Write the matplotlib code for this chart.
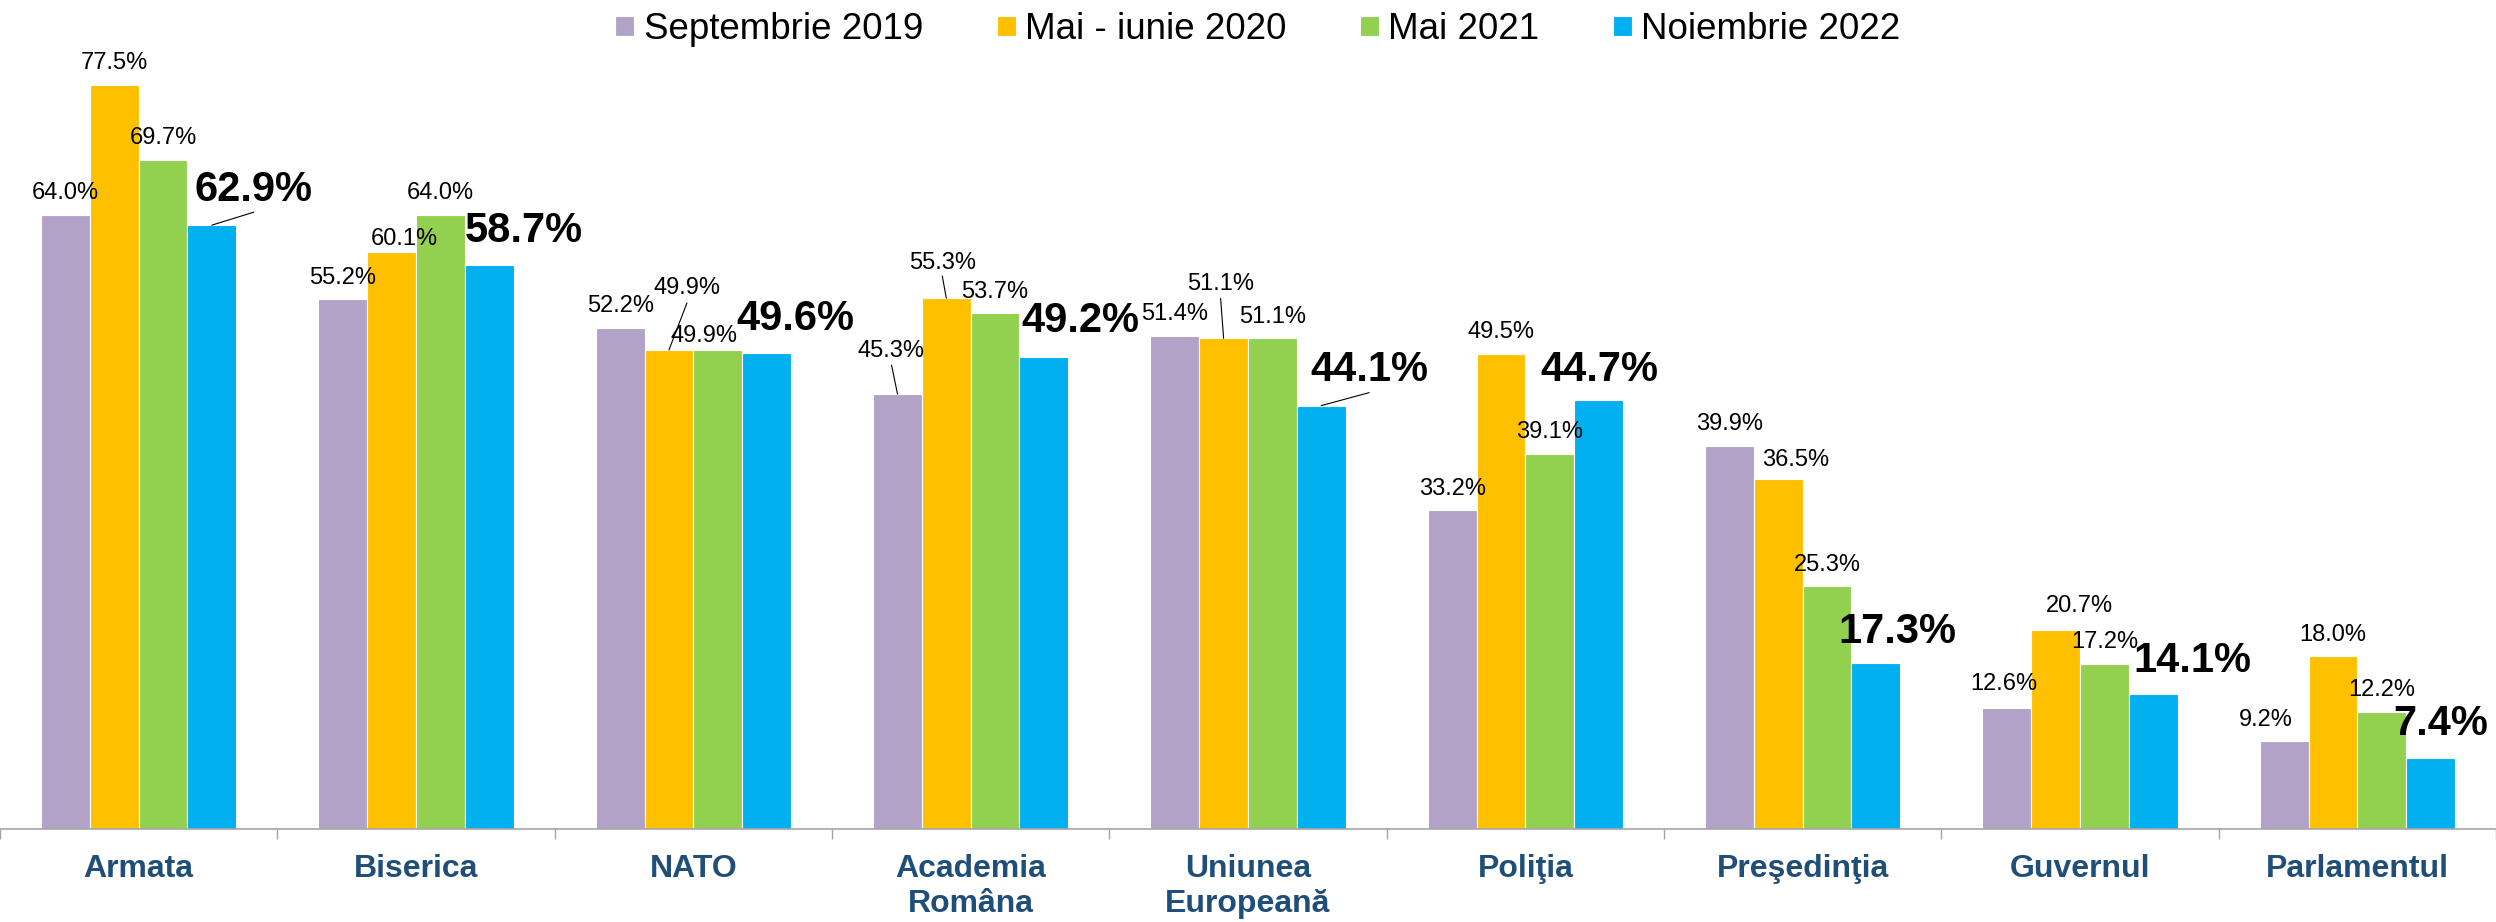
import matplotlib.pyplot as plt
import numpy as np

plt.rcParams['font.family'] = ['Liberation Sans', 'DejaVu Sans']

#%% data
categories = ["Armata", "Biserica", "NATO", "Academia\nRomâna", "Uniunea\nEuropeană",
              "Poliţia", "Preşedinţia", "Guvernul", "Parlamentul"]
series_names = ["Septembrie 2019", "Mai - iunie 2020", "Mai 2021", "Noiembrie 2022"]

sept_2019 = [64.0, 55.2, 52.2, 45.3, 51.4, 33.2, 39.9, 12.6, 9.2]
mai_2020 = [77.5, 60.1, 49.9, 55.3, 51.1, 49.5, 36.5, 20.7, 18.0]
mai_2021 = [69.7, 64.0, 49.9, 53.7, 51.1, 39.1, 25.3, 17.2, 12.2]
nov_2022 = [62.9, 58.7, 49.6, 49.2, 44.1, 44.7, 17.3, 14.1, 7.4]

series = [sept_2019, mai_2020, mai_2021, nov_2022]
colors = ['#B3A2C7', '#FFC000', '#92D050', '#00B0F0']

#%% label placement (pixels from the top centre of the bar, label centre)
default_small = (0, 24)
default_bold = (0, 38)
label_offsets = {
    (3, 0): (42, 39),
    (1, 1): (13, 15), (3, 1): (35, 38),
    (1, 2): (18, 64), (2, 2): (-14, 16), (3, 2): (29, 38),
    (0, 3): (-7, 46), (1, 3): (-4, 38), (3, 3): (37, 40),
    (1, 4): (-3, 57), (3, 4): (48, 40),
    (3, 5): (1, 34),
    (1, 6): (17, 21), (3, 6): (22, 35),
    (0, 7): (-3, 26), (1, 7): (24, 27), (3, 7): (39, 37),
    (0, 8): (-18, 23), (3, 8): (10, 38),
}
# leader lines: end point relative to bar top centre
leaders = {
    (3, 0): (42, 13),
    (1, 2): (18, 47),
    (0, 3): (-6, 29),
    (1, 3): (-4, 22),
    (1, 4): (-3, 40),
    (3, 4): (48, 13),
}

dpi = 100
fig = plt.figure(figsize=(24.96, 9.22), dpi=dpi)
ax = fig.add_axes([0, 93/922, 1, 768/922])

x = np.arange(len(categories))
w = 0.1758
small_fs = 17
bold_fs = 30

for k in range(len(series)):
    xs = x + (k - 1.5) * w
    ax.bar(xs, series[k], w, color=colors[k], edgecolor='white', linewidth=0.8,
           label=series_names[k])
    for i in range(len(categories)):
        v = series[k][i]
        if k == 3:
            fs, weight, off = bold_fs, 'bold', label_offsets.get((k, i), default_bold)
        else:
            fs, weight, off = small_fs, 'normal', label_offsets.get((k, i), default_small)
        cap_half = 0.358 * fs * dpi / 72
        ax.annotate(f"{v:.1f}%", xy=(xs[i], v), xytext=(off[0], off[1] - cap_half),
                    textcoords='offset pixels', ha='center', va='baseline',
                    fontsize=fs, fontweight=weight, color='black')
        if (k, i) in leaders:
            ax.annotate('', xy=(xs[i], v), xytext=leaders[(k, i)],
                        textcoords='offset pixels',
                        arrowprops=dict(arrowstyle='-', color='black', lw=0.8,
                                        shrinkA=0, shrinkB=0))

ax.set_xlim(-0.4664, 8.488)
ax.set_ylim(0, 80)

ax.set_xticks(x)
ax.set_xticklabels(categories, fontsize=23, fontweight='bold', color='#1F4E79')
ax.set_xticks(np.arange(-0.5, len(categories), 1), minor=True)
ax.tick_params(axis='x', which='major', length=0, pad=18)
ax.tick_params(axis='x', which='minor', length=7.2, width=1, color='#A6A6A6')
ax.yaxis.set_visible(False)
for s in ['left', 'top', 'right']:
    ax.spines[s].set_visible(False)
ax.spines['bottom'].set_color('#A6A6A6')
ax.spines['bottom'].set_linewidth(1.2)

fig.legend(loc='center', bbox_to_anchor=(0.504, 0.968), ncol=4, frameon=False,
           fontsize=26.5, handlelength=0.52, handleheight=0.46, handletextpad=0.25,
           columnspacing=2.0, borderaxespad=0)

fig.savefig("out.png", dpi=dpi)
